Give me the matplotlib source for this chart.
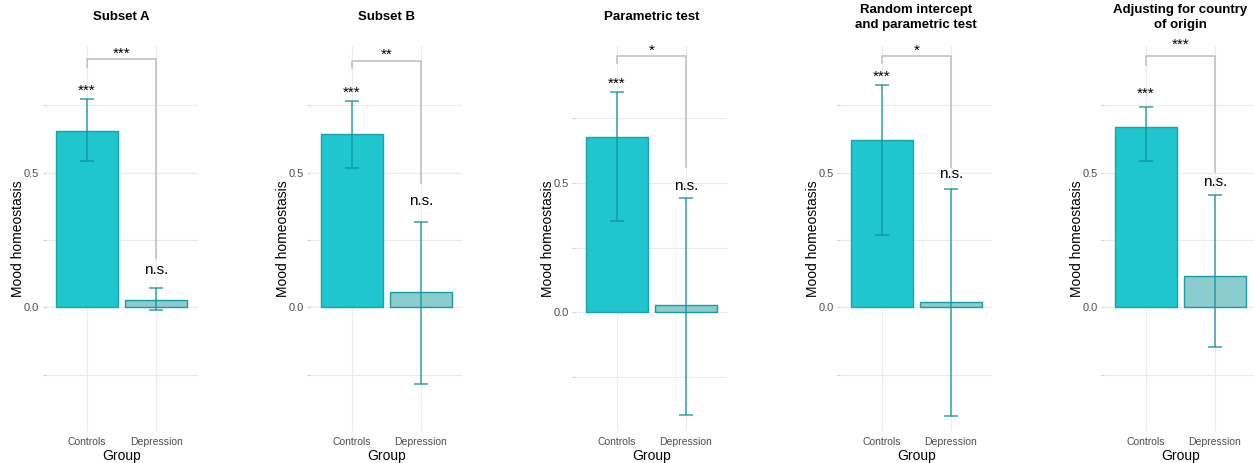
import matplotlib
matplotlib.use("Agg")
import matplotlib.pyplot as plt

plt.rcParams['font.family'] = ['Liberation Sans', 'DejaVu Sans']

# Estimates per model: controls vs depression, with 95% intervals
panel_titles = ["Subset A", "Subset B", "Parametric test",
                "Random intercept\nand parametric test",
                "Adjusting for country\nof origin"]
groups = ["Controls", "Depression"]

control_mean = [0.656, 0.645, 0.677, 0.621, 0.671]
control_lo = [0.545, 0.517, 0.353, 0.269, 0.543]
control_hi = [0.773, 0.766, 0.852, 0.826, 0.746]

depr_mean = [0.027, 0.058, 0.029, 0.021, 0.115]
depr_lo = [-0.011, -0.284, -0.397, -0.404, -0.149]
depr_hi = [0.071, 0.318, 0.443, 0.440, 0.417]

control_sig = ["***", "***", "***", "***", "***"]
depr_sig = ["n.s.", "n.s.", "n.s.", "n.s.", "n.s."]
diff_sig = ["***", "**", "*", "*", "***"]

# comparison brackets (y of the bar, and where each leg stops)
bracket_y = [0.923, 0.917, 0.992, 0.935, 0.934]
bracket_left_end = [0.894, 0.888, 0.963, 0.907, 0.901]
bracket_right_end = [0.182, 0.463, 0.563, 0.523, 0.504]
ns_label_y = [0.124, 0.380, 0.473, 0.482, 0.452]

# panel layout in pixels
W, H = 1254, 463
panel_left = [45.6, 310.3, 575.3, 840.3, 1104.3]
panel_w = 152
panel_top, panel_bottom = 46, 431
ylims = [(-0.460, 0.971), (-0.460, 0.971), (-0.459, 1.030),
         (-0.460, 0.971), (-0.460, 0.971)]
# last panel has its labels lifted a little further
star_pad = [3, 3, 3, 3, 6]
bracket_pad = [1, 1, 1, 1, 5]

CTRL_FILL = '#20C6CE'
CTRL_EDGE = '#1AA2A8'
DEPR_FILL = '#8BCCCF'
DEPR_EDGE = '#1A9CA1'
ERR_COL = '#12929A'
GRID_COL = '#EBEBEB'

fig = plt.figure(figsize=(W / 100, H / 100), dpi=100)

for i in range(5):
    ax = fig.add_axes([panel_left[i] / W, 1 - panel_bottom / H,
                       panel_w / W, (panel_bottom - panel_top) / H])
    x = [1, 2]
    means = [control_mean[i], depr_mean[i]]
    lo = [control_lo[i], depr_lo[i]]
    hi = [control_hi[i], depr_hi[i]]

    ax.bar(x, means, width=0.9, color=[CTRL_FILL, DEPR_FILL],
           edgecolor=[CTRL_EDGE, DEPR_EDGE], linewidth=1.0, zorder=2)
    ax.errorbar(x, means, yerr=[[m - l for m, l in zip(means, lo)],
                                [h - m for m, h in zip(means, hi)]],
                fmt='none', ecolor=ERR_COL, elinewidth=1.1, capsize=5,
                capthick=1.1, alpha=0.85, zorder=3)

    # significance vs zero
    ax.annotate(control_sig[i], (1, control_hi[i]), xytext=(0, star_pad[i]),
                textcoords='offset points', ha='center', va='baseline',
                fontsize=11, annotation_clip=False)
    ax.text(2, ns_label_y[i], depr_sig[i], ha='center', va='baseline',
            fontsize=11)

    # group difference bracket
    ax.plot([1, 1, 2, 2],
            [bracket_left_end[i], bracket_y[i], bracket_y[i], bracket_right_end[i]],
            color='#BDBDBD', lw=1.1, clip_on=False, zorder=1)
    ax.annotate(diff_sig[i], (1.5, bracket_y[i]), xytext=(0, bracket_pad[i]),
                textcoords='offset points', ha='center', va='baseline',
                fontsize=11, annotation_clip=False)

    ax.set_xlim(0.4, 2.6)
    ax.set_ylim(*ylims[i])
    ax.set_xticks(x)
    ax.set_xticklabels(groups)
    ax.set_yticks([0, 0.5])
    ax.set_yticklabels(["0.0", "0.5"])
    ax.set_yticks([-0.25, 0.25, 0.75], minor=True)
    ax.grid(True, which='both', color=GRID_COL, lw=0.8, zorder=0)
    ax.set_axisbelow(True)
    for s in ax.spines.values():
        s.set_visible(False)
    ax.tick_params(axis='x', length=0, pad=4, labelsize=7.5, labelcolor='#4D4D4D')
    ax.tick_params(axis='y', which='both', length=2.5, width=0.8,
                   color='#D0D0D0', pad=2, labelsize=8, labelcolor='#4D4D4D')

    ax.set_xlabel("Group", fontsize=10, labelpad=2)
    ax.set_ylabel("Mood homeostasis", fontsize=10)
    ax.yaxis.set_label_coords(-0.135, 0.5)

    fig.text((panel_left[i] + panel_w / 2) / W, 1 - 17.5 / H, panel_titles[i],
             ha='center', va='center', fontsize=9.5, fontweight='bold',
             linespacing=1.3)

fig.savefig("out.png", dpi=100)
